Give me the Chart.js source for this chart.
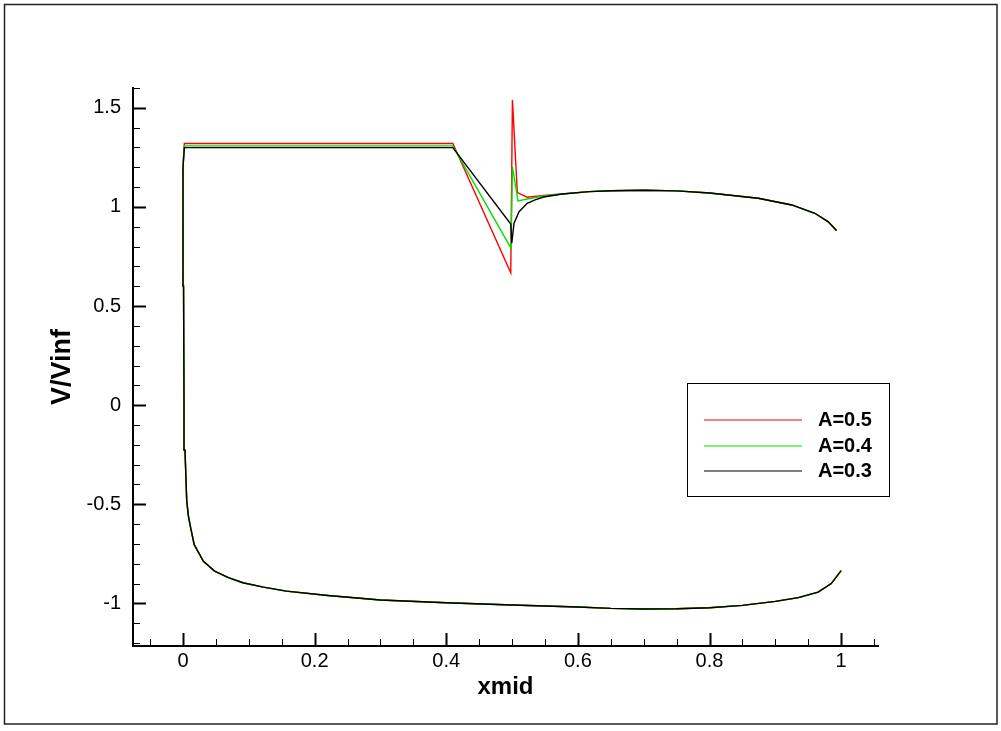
<!DOCTYPE html>
<html>
<head>
<meta charset="utf-8">
<script src="https://cdn.jsdelivr.net/npm/chart.js@4/dist/chart.umd.min.js"></script>
<style>
  body { margin: 0; background: #fff; }
  canvas { display: block; }
</style>
</head>
<body>
<canvas id="chart" width="1001" height="731"></canvas>
<script>
// Lower surface, shared by all three cases (trailing edge -> leading edge)
const lowerX = [1.0, 0.985, 0.965, 0.935, 0.9, 0.85, 0.8, 0.75, 0.7, 0.65, 0.6, 0.5, 0.4, 0.3, 0.22,
  0.157, 0.122, 0.091, 0.069, 0.048, 0.031, 0.017, 0.0117, 0.008, 0.0056, 0.003, 0.0015, 0.0008, 0.0];
const lowerY = [-0.835, -0.90, -0.943, -0.971, -0.99, -1.01, -1.022, -1.027, -1.028, -1.025, -1.018, -1.008, -0.997, -0.983, -0.96,
  -0.938, -0.918, -0.896, -0.870, -0.837, -0.788, -0.704, -0.62, -0.556, -0.48, -0.227, 0.02, 0.6, 1.2];

// Upper surface, part that differs per case
const upperX_05 = [0.002, 0.41, 0.498, 0.5005, 0.508, 0.523, 0.548];
const upperY_05 = [1.320, 1.320, 0.668, 1.540, 1.072, 1.049, 1.058];
const upperX_04 = [0.002, 0.41, 0.4985, 0.5005, 0.509, 0.523, 0.548];
const upperY_04 = [1.308, 1.308, 0.791, 1.204, 1.030, 1.040, 1.055];
const upperX_03 = [0.002, 0.41, 0.498, 0.4995, 0.503, 0.5106, 0.523, 0.535, 0.548];
const upperY_03 = [1.299, 1.299, 0.914, 0.817, 0.918, 0.976, 1.018, 1.036, 1.050];

// Upper surface aft part, shared
const tailX = [0.576, 0.617, 0.65, 0.7, 0.75, 0.8, 0.874, 0.925, 0.96, 0.98, 0.993];
const tailY = [1.065, 1.077, 1.082, 1.084, 1.081, 1.070, 1.044, 1.010, 0.968, 0.926, 0.881];

const labels = ['A=0.5', 'A=0.4', 'A=0.3'];
const colors = ['#ff0000', '#00dd00', '#000000'];

function buildPoints(ux, uy) {
  const xs = lowerX.concat(ux, tailX);
  const ys = lowerY.concat(uy, tailY);
  return xs.map((x, i) => ({ x: x, y: ys[i] }));
}

function isMajor(v, step) {
  return Math.abs(v / step - Math.round(v / step)) < 1e-6;
}

const fmt = v => String(Math.round(v * 100) / 100);

// inward ticks, Tecplot style
const tickPlugin = {
  id: 'inTicks',
  afterDraw(chart) {
    const ctx = chart.ctx;
    const area = chart.chartArea;
    ctx.save();
    ctx.strokeStyle = '#000';
    chart.scales.x.ticks.forEach(t => {
      const px = Math.round(chart.scales.x.getPixelForValue(t.value)) + 0.5;
      const major = t.label !== '';
      ctx.lineWidth = major ? 2 : 1;
      ctx.beginPath();
      ctx.moveTo(px, area.bottom);
      ctx.lineTo(px, area.bottom - (major ? 13 : 7));
      ctx.stroke();
    });
    chart.scales.y.ticks.forEach(t => {
      const py = Math.round(chart.scales.y.getPixelForValue(t.value)) + 0.5;
      const major = t.label !== '';
      ctx.lineWidth = major ? 2 : 1;
      ctx.beginPath();
      ctx.moveTo(area.left, py);
      ctx.lineTo(area.left + (major ? 13 : 7), py);
      ctx.stroke();
    });
    ctx.restore();
  }
};

const legendPlugin = {
  id: 'boxLegend',
  afterDraw(chart) {
    const ctx = chart.ctx;
    ctx.save();
    ctx.lineWidth = 1;
    ctx.strokeStyle = '#000';
    ctx.strokeRect(687.5, 383.5, 202, 113);
    ctx.font = 'bold 20px Arial, "Liberation Sans", sans-serif';
    ctx.textBaseline = 'middle';
    ctx.fillStyle = '#000';
    const rows = [420, 446, 471];
    chart.data.datasets.forEach((ds, i) => {
      ctx.strokeStyle = ds.borderColor;
      ctx.beginPath();
      ctx.moveTo(704, rows[i]);
      ctx.lineTo(802, rows[i]);
      ctx.stroke();
      ctx.fillText(ds.label, 818, rows[i]);
    });
    ctx.restore();
  }
};

const framePlugin = {
  id: 'frame',
  afterDraw(chart) {
    const ctx = chart.ctx;
    ctx.save();
    ctx.lineWidth = 1.5;
    ctx.strokeStyle = '#222';
    ctx.strokeRect(4.5, 4.5, 992.5, 719.5);
    ctx.restore();
  }
};

Chart.defaults.font.family = 'Arial, "Liberation Sans", sans-serif';
Chart.defaults.color = '#000';

new Chart(document.getElementById('chart').getContext('2d'), {
  type: 'line',
  data: {
    datasets: [
      { label: labels[0], data: buildPoints(upperX_05, upperY_05), borderColor: colors[0], order: 3 },
      { label: labels[1], data: buildPoints(upperX_04, upperY_04), borderColor: colors[1], order: 2 },
      { label: labels[2], data: buildPoints(upperX_03, upperY_03), borderColor: colors[2], order: 1 }
    ].map(d => Object.assign(d, { borderWidth: 1.4, pointRadius: 0, tension: 0, fill: false }))
  },
  options: {
    responsive: false,
    animation: false,
    layout: { padding: { top: 88, right: 123, left: 46, bottom: 29 } },
    plugins: { legend: { display: false }, tooltip: { enabled: false } },
    scales: {
      x: {
        type: 'linear',
        min: -0.076,
        max: 1.056,
        grid: { display: false, drawTicks: false },
        border: { display: true, color: '#000', width: 2 },
        ticks: {
          stepSize: 0.05,
          includeBounds: false,
          autoSkip: false,
          maxRotation: 0,
          padding: 3,
          font: { size: 20 },
          callback: v => isMajor(v, 0.2) ? fmt(v) : ''
        },
        title: { display: true, text: 'xmid', padding: 0, font: { size: 24, weight: 'bold' } },
        afterFit: s => { s.height = 56; }
      },
      y: {
        type: 'linear',
        min: -1.215,
        max: 1.6,
        grid: { display: false, drawTicks: false },
        border: { display: true, color: '#000', width: 2 },
        ticks: {
          stepSize: 0.1,
          includeBounds: false,
          autoSkip: false,
          padding: 12,
          font: { size: 20 },
          callback: v => isMajor(v, 0.5) ? fmt(v) : ''
        },
        title: { display: true, text: 'V/Vinf', padding: 0, font: { size: 27, weight: 'bold' } },
        afterFit: s => { s.width = 87; }
      }
    }
  },
  plugins: [tickPlugin, legendPlugin, framePlugin]
});
</script>
</body>
</html>
